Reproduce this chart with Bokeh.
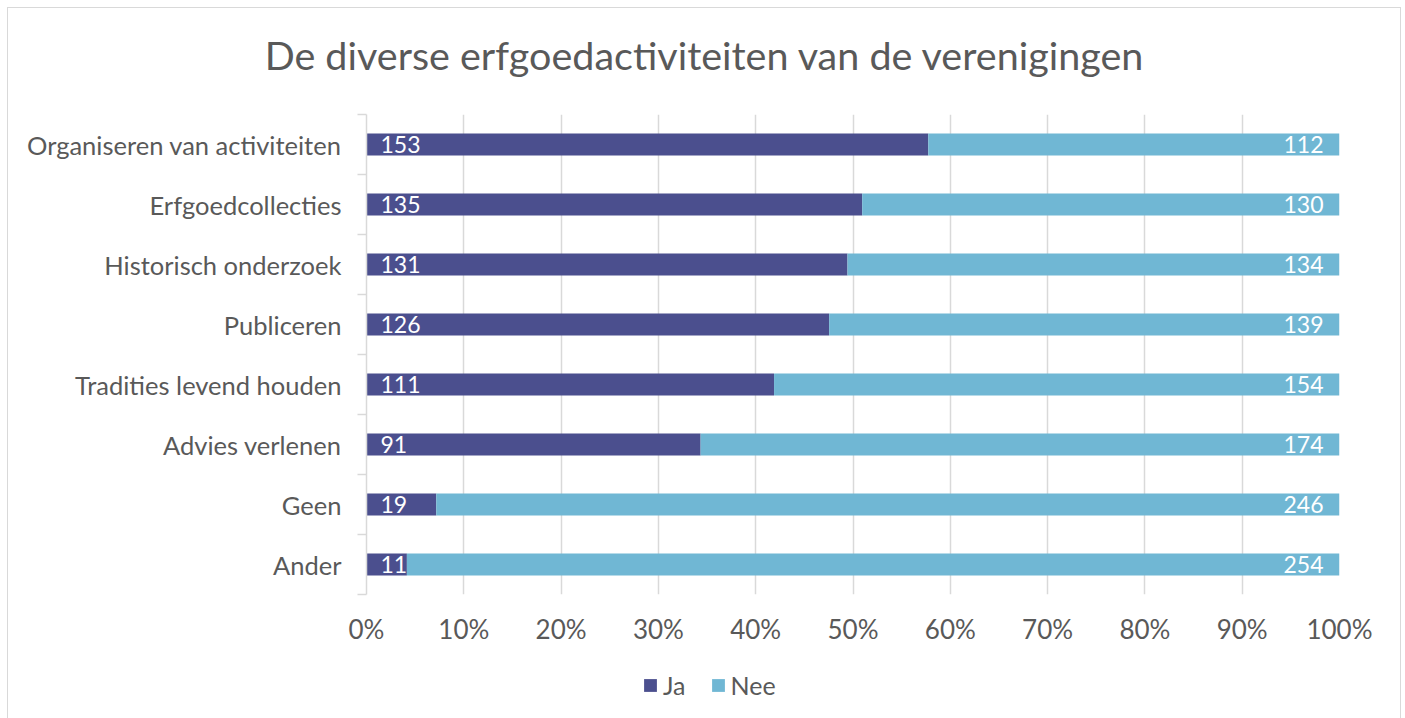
from bokeh.plotting import figure
from bokeh.layouts import column
from bokeh.models import (ColumnDataSource, Range1d, FixedTicker, LabelSet,
                          Legend, LegendItem, Div)
from bokeh.core.properties import value
from bokeh.embed import file_html
from bokeh.resources import INLINE

categories = ["Organiseren van activiteiten", "Erfgoedcollecties", "Historisch onderzoek",
              "Publiceren", "Tradities levend houden", "Advies verlenen", "Geen", "Ander"]
ja = [153, 135, 131, 126, 111, 91, 19, 11]
nee = [112, 130, 134, 139, 154, 174, 246, 254]
series = ["Ja", "Nee"]
x_ticks = [0, 0.1, 0.2, 0.3, 0.4, 0.5, 0.6, 0.7, 0.8, 0.9, 1.0]
x_tick_labels = ["0%", "10%", "20%", "30%", "40%", "50%", "60%", "70%", "80%", "90%", "100%"]
title_text = "De diverse erfgoedactiviteiten van de verenigingen"

colors = ["#4B4F8E", "#70B7D4"]
FONT = "Lato"
TXT = "#595959"
GRID = "#d9d9d9"

n = len(categories)
pos = [n - i - 0.5 for i in range(n)]
tot = [a + b for a, b in zip(ja, nee)]
src = ColumnDataSource(dict(
    y=pos, cat=categories,
    Ja=[a / t for a, t in zip(ja, tot)],
    Nee=[b / t for b, t in zip(nee, tot)],
    ja_txt=[str(a) for a in ja], nee_txt=[str(b) for b in nee],
    zero=[0] * n, one=[1] * n,
))

# title strip
title_div = Div(text=title_text, width=1392, height=96, margin=0,
                styles={"font-family": FONT, "font-size": "39.5px", "color": TXT,
                        "text-align": "center", "line-height": "93px",
                        "white-space": "nowrap"})

p = figure(frame_width=973, frame_height=480, output_backend="svg", toolbar_location=None,
           x_range=Range1d(0, 1), y_range=Range1d(0, n),
           min_border_left=358, min_border_right=61, min_border_top=10, min_border_bottom=60)
p.outline_line_color = None
p.background_fill_color = "white"
p.border_fill_color = "white"

rs = p.hbar_stack(series, y="y", height=0.37, color=colors, source=src, line_color=None)

# grid
p.ygrid.visible = False
p.xgrid.ticker = FixedTicker(ticks=x_ticks)
p.xgrid.grid_line_color = GRID
p.xgrid.grid_line_width = 1.5

# x axis
xa = p.xaxis[0]
xa.ticker = FixedTicker(ticks=x_ticks)
xa.major_label_overrides = {t: l for t, l in zip(x_ticks, x_tick_labels)}
xa.axis_line_color = None
xa.major_tick_line_color = None
xa.minor_tick_line_color = None
xa.major_label_text_font = FONT
xa.major_label_text_font_size = "26px"
xa.major_label_text_color = TXT
xa.major_label_standoff = 12

# y axis
ya = p.yaxis[0]
ya.ticker = FixedTicker(ticks=pos, minor_ticks=list(range(n + 1)))
ya.major_label_overrides = {y: c for y, c in zip(pos, categories)}
ya.axis_line_color = GRID
ya.axis_line_width = 1.5
ya.major_tick_line_color = None
ya.major_tick_in = 0
ya.major_tick_out = 0
ya.minor_tick_line_color = GRID
ya.minor_tick_line_width = 1.5
ya.minor_tick_in = 0
ya.minor_tick_out = 9
ya.major_label_text_font = FONT
ya.major_label_text_font_size = "25.5px"
ya.major_label_text_color = TXT
ya.major_label_standoff = 16

# data labels
p.add_layout(LabelSet(x="zero", y="y", text="ja_txt", source=src, x_offset=14,
                      text_align="left", text_baseline="middle", text_color="white",
                      text_font=value(FONT), text_font_size="23px"))
p.add_layout(LabelSet(x="one", y="y", text="nee_txt", source=src, x_offset=-16,
                      text_align="right", text_baseline="middle", text_color="white",
                      text_font=value(FONT), text_font_size="23px"))

# legend strip (zero-size swatch renderers carry the series colours)
lg = figure(width=1392, height=64, output_backend="svg", toolbar_location=None,
            x_range=Range1d(0, 1), y_range=Range1d(0, 1),
            min_border=0)
lg.outline_line_color = None
lg.axis.visible = False
lg.grid.visible = False
lg.border_fill_color = "white"
swatches = [lg.hbar(y=[0], left=[0], right=[0], height=0, fill_color=c, line_color=None)
            for c in colors]
legend = Legend(items=[LegendItem(label=s, renderers=[r]) for s, r in zip(series, swatches)],
                orientation="horizontal", location=(276, 18),
                padding=0, margin=0, spacing=24, label_standoff=5,
                glyph_width=16, glyph_height=16, label_height=22,
                label_text_font=FONT, label_text_font_size="25px", label_text_color=TXT,
                border_line_color=None, background_fill_alpha=0)
lg.add_layout(legend)

layout = column(title_div, p, lg, spacing=0,
                styles={"border": "1.5px solid #d9d9d9", "margin": "7px 0 0 7px"})

open("out.html", "w").write(file_html(layout, INLINE))
